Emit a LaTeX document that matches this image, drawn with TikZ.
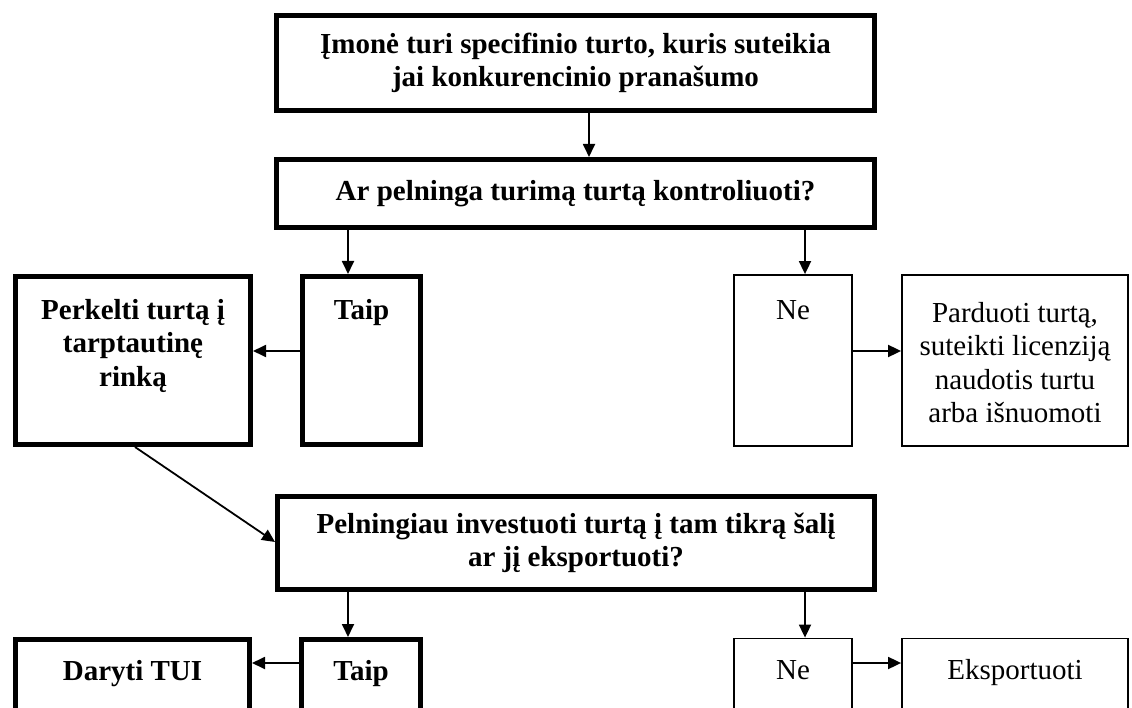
\documentclass[tikz,border=0pt]{standalone}
\usepackage{fontspec}
\setmainfont{Liberation Serif}
\usetikzlibrary{arrows.meta}
\tikzset{
  thickbox/.style={draw=black, line width=5pt, inner sep=0pt, fill=white},
  thinbox/.style={draw=black, line width=1.8pt, inner sep=0pt, fill=white},
  btxt/.style={font=\fontsize{29}{33.4}\selectfont\bfseries, align=center, inner sep=0pt},
  rtxt/.style={font=\fontsize{29}{33.4}\selectfont, align=center, inner sep=0pt},
  arr/.style={line width=1.8pt, -{Triangle[length=13pt,width=12pt]}},
  ln/.style={line width=1.8pt}
}
\begin{document}
\begin{tikzpicture}[x=1pt,y=-1pt]
\useasboundingbox (0,0) rectangle (1132,708);
\clip (0,0) rectangle (1132,708);
% boxes
\node[thickbox, minimum width=598pt, minimum height=95pt] (top) at (575.5,63) {};
\node[thickbox, minimum width=598pt, minimum height=68pt] (q1) at (575.5,193.5) {};
\node[thickbox, minimum width=235pt, minimum height=168pt] (perk) at (133,360.5) {};
\node[thickbox, minimum width=118pt, minimum height=168pt] (taipA) at (361.5,360.5) {};
\node[thinbox, minimum width=118pt, minimum height=171pt] (neA) at (793,360.5) {};
\node[thinbox, minimum width=226pt, minimum height=171pt] (pard) at (1015,360.5) {};
\node[thickbox, minimum width=597pt, minimum height=93pt] (q2) at (576,543) {};
\node[thickbox, minimum width=234pt, minimum height=120pt] (dar) at (132.5,699.5) {};
\node[thickbox, minimum width=119pt, minimum height=120pt] (taipB) at (361,699.5) {};
\node[thinbox, minimum width=118pt, minimum height=120pt] (neB) at (793,698.5) {};
\node[thinbox, minimum width=226pt, minimum height=120pt] (eksp) at (1015,698.5) {};
% texts
\node[btxt] (ttop) at (top.center) {Įmonė turi specifinio turto, kuris suteikia\\jai konkurencinio pranašumo};
\node[btxt] (tq1) at (q1.center) {Ar pelninga turimą turtą kontroliuoti?};
\node[btxt, anchor=north] (tperk) at (133,299) {Perkelti turtą į\\tarptautinę\\rinką};
\node[btxt, anchor=base] (ttaipA) at (361.5,320) {Taip};
\node[rtxt, anchor=base] (tneA) at (793,320) {Ne};
\node[rtxt, anchor=north] (tpard) at (1015,302) {Parduoti turtą,\\suteikti licenziją\\naudotis turtu\\arba išnuomoti};
\node[btxt] (tq2) at (q2.center) {Pelningiau investuoti turtą į tam tikrą šalį\\ar jį eksportuoti?};
\node[btxt, anchor=base] (tdar) at (132.5,680) {Daryti TUI};
\node[btxt, anchor=base] (ttaipB) at (361,680) {Taip};
\node[rtxt, anchor=base] (tneB) at (793,679) {Ne};
\node[rtxt, anchor=base] (teksp) at (1015,679) {Eksportuoti};
% connector guides
\coordinate (xa) at (589,0);
\coordinate (xl) at (348,0);
\coordinate (xr) at (805,0);
\coordinate (ya) at (0,351);
\coordinate (yb) at (0,663);
\coordinate (dstart) at (135,0);
\coordinate (dend) at (0,542);
% connectors
\draw[arr] (top.south -| xa) -- (q1.north -| xa);
\draw[arr] (q1.south -| xl) -- (taipA.north -| xl);
\draw[arr] (q1.south -| xr) -- (neA.north -| xr);
\draw[arr] (taipA.west |- ya) -- (perk.east |- ya);
\draw[arr] (neA.east |- ya) -- (pard.west |- ya);
\draw[arr] (perk.south -| dstart) -- (q2.west |- dend);
\draw[arr] (q2.south -| xl) -- (taipB.north -| xl);
\draw[arr] (q2.south -| xr) -- (neB.north -| xr);
\draw[arr] (taipB.west |- yb) -- (dar.east |- yb);
\draw[arr] (neB.east |- yb) -- (eksp.west |- yb);
\end{tikzpicture}
\end{document}
